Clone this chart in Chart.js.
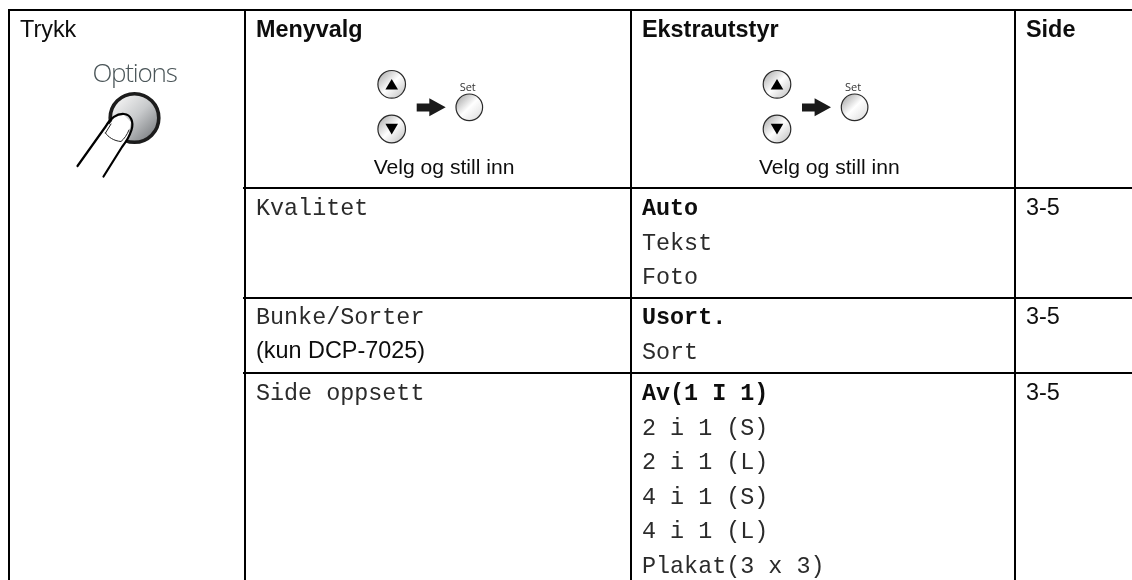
<!DOCTYPE html>
<html><head><meta charset="utf-8">
<style>html,body{margin:0;padding:0;background:#fff;overflow:hidden}canvas{display:block}</style>
<script src="https://cdn.jsdelivr.net/npm/chart.js@4/dist/chart.umd.min.js"></script>
</head><body><canvas id="c" width="1132" height="580"></canvas>
<script>
// Table content
const headers = ["Trykk", "Menyvalg", "Ekstrautstyr", "Side"];
const caption = "Velg og still inn";
const menuItems = ["Kvalitet", "Bunke/Sorter", "Side oppsett"];
const menuNote = "(kun DCP-7025)";
const qualityOptions = ["Auto", "Tekst", "Foto"];
const stackOptions = ["Usort.", "Sort"];
const layoutOptions = ["Av(1 I 1)", "2 i 1 (S)", "2 i 1 (L)", "4 i 1 (S)", "4 i 1 (L)", "Plakat(3 x 3)"];
const pageRefs = ["3-5", "3-5", "3-5"];
// Table geometry, in the scale's units
const columnRules = [9, 245, 631, 1015];
const rowRules = [188, 298, 373];
const tableTop = 10, tableBottom = 580, tableRight = 1132, ruleStart = 243;

const SANS = '"Liberation Sans", Arial, sans-serif', MONO = '"Liberation Mono", "Courier New", monospace', HUM = '"Open Sans", sans-serif';
const ink = '#0d0d0d', monoInk = '#2b2b2b';

const ruleSets = [
  {data: [{x: columnRules[0] - 1, y: tableTop}, {x: tableRight, y: tableTop}]},
  ...columnRules.map(x => ({data: [{x, y: tableTop}, {x, y: tableBottom}]})),
  ...rowRules.map(y => ({data: [{x: ruleStart, y}, {x: tableRight, y}]}))
].map(d => ({...d, showLine: true, borderColor: '#000', borderWidth: 2, pointRadius: 0, borderCapStyle: 'butt'}));

const tablePlugin = {
  id: 'table',
  afterDraw(chart) {
    const ctx = chart.ctx, X = v => chart.scales.x.getPixelForValue(v), Y = v => chart.scales.y.getPixelForValue(v);
    const text = (s, x, y, font, color = ink, align = 'left') => {
      ctx.font = font; ctx.fillStyle = color; ctx.textAlign = align; ctx.textBaseline = 'alphabetic';
      ctx.fillText(s, X(x), Y(y));
    };
    const poly = (pts, fill) => {
      ctx.beginPath(); pts.forEach((p, i) => i ? ctx.lineTo(X(p[0]), Y(p[1])) : ctx.moveTo(X(p[0]), Y(p[1])));
      ctx.closePath(); ctx.fillStyle = fill; ctx.fill();
    };
    const disc = (cx, cy, r, stops, lw, stroke) => {
      const g = ctx.createLinearGradient(X(cx - r * .7), Y(cy - r * .7), X(cx + r * .7), Y(cy + r * .7));
      stops.forEach((c, i) => g.addColorStop(i / (stops.length - 1), c));
      ctx.beginPath(); ctx.arc(X(cx), Y(cy), r, 0, Math.PI * 2); ctx.fillStyle = g; ctx.fill();
      ctx.lineWidth = lw; ctx.strokeStyle = stroke; ctx.stroke();
    };
    ctx.save();
    // Headers
    text(headers[0], 20, 36.5, `23.4px ${SANS}`);
    text(headers[1], 256, 36.5, `bold 23.4px ${SANS}`);
    text(headers[2], 642, 36.5, `bold 23.4px ${SANS}`);
    text(headers[3], 1026, 36.5, `bold 23.4px ${SANS}`);
    // Options button with finger
    ctx.letterSpacing = '-1.2px';
    text("Options", 134.5, 82, `300 26px ${HUM}`, '#4a5558', 'center');
    ctx.letterSpacing = '0px';
    disc(134.5, 118, 24.3, ['#f0f0f0', '#c8cacc', '#85888b'], 3.6, '#1c1c1c');
    ctx.lineJoin = 'round'; ctx.lineCap = 'round';
    const finger = () => {
      ctx.beginPath();
      ctx.moveTo(X(77.5), Y(166)); ctx.lineTo(X(106), Y(126));
      ctx.bezierCurveTo(X(110), Y(118), X(117), Y(113.5), X(124), Y(114));
      ctx.bezierCurveTo(X(131), Y(114.5), X(134), Y(122), X(131.5), Y(130));
      ctx.bezierCurveTo(X(129.5), Y(136), X(126), Y(142), X(122), Y(147));
      ctx.lineTo(X(103.5), Y(176.5));
    };
    poly([[108, 126], [116, 116], [124, 115], [131, 122], [128, 138], [118, 150], [100, 172], [82, 164]], '#fff');
    finger();
    ctx.strokeStyle = '#000'; ctx.lineWidth = 2.2; ctx.stroke();
    ctx.beginPath();
    ctx.moveTo(X(105.5), Y(133)); ctx.lineTo(X(111), Y(124));
    ctx.moveTo(X(105.5), Y(133));
    ctx.bezierCurveTo(X(108), Y(137), X(114), Y(141), X(121), Y(141.5));
    ctx.bezierCurveTo(X(124), Y(139), X(127), Y(135), X(129), Y(130));
    ctx.lineWidth = 1; ctx.strokeStyle = '#222'; ctx.stroke();
    // Navigation icons
    [0, 385.3].forEach((dx) => {
      const cx = 391.7 + dx;
      disc(cx, 84.3, 13.8, ['#bdbdbd', '#ffffff', '#d0d0d0'], 1.2, '#2a2a2a');
      disc(cx, 129, 13.8, ['#bdbdbd', '#ffffff', '#d0d0d0'], 1.2, '#2a2a2a');
      poly([[cx, 79], [cx + 6.3, 89.6], [cx - 6.3, 89.6]], '#000');
      poly([[cx, 134.4], [cx + 6.3, 123.8], [cx - 6.3, 123.8]], '#000');
      poly([[cx + 25, 103.4], [cx + 37.6, 103.4], [cx + 37.6, 98.3], [cx + 54, 107.3], [cx + 37.6, 116.2], [cx + 37.6, 111.5], [cx + 25, 111.5]], '#1a1a1a');
      disc(cx + 77.6, 107.3, 13.3, ['#b8b8b8', '#ffffff', '#e4e4e4'], 1.2, '#2a2a2a');
      text("Set", cx + 76, 90.5, `11px ${HUM}`, '#333', 'center');
      text(caption, cx + 52.3, 174, `21.1px ${SANS}`, ink, 'center');
    });
    // Menu column
    const monoFont = `23.4px ${MONO}`, monoBold = `bold 23.4px ${MONO}`;
    text(menuItems[0], 256, 215, monoFont, monoInk);
    text(menuItems[1], 256, 324, monoFont, monoInk);
    text(menuNote, 256, 358, `23.4px ${SANS}`);
    text(menuItems[2], 256, 400, monoFont, monoInk);
    // Options column
    const list = (items, y0) => items.forEach((s, i) => text(s, 642, y0 + i * 34.6, i ? monoFont : monoBold, i ? monoInk : ink));
    list(qualityOptions, 215);
    list(stackOptions, 324);
    list(layoutOptions, 400);
    // Page column
    [215, 324, 400].forEach((y, i) => text(pageRefs[i], 1026, y, `23.4px ${SANS}`));
    ctx.restore();
  }
};

new Chart(document.getElementById('c'), {
  type: 'scatter',
  data: {datasets: ruleSets},
  options: {
    responsive: false, animation: false, events: [],
    layout: {padding: 0},
    plugins: {legend: {display: false}, tooltip: {enabled: false}, title: {display: false}},
    scales: {
      x: {type: 'linear', display: false, min: 0, max: 1132},
      y: {type: 'linear', display: false, min: 0, max: 580, reverse: true}
    }
  },
  plugins: [tablePlugin]
});
</script></body></html>
